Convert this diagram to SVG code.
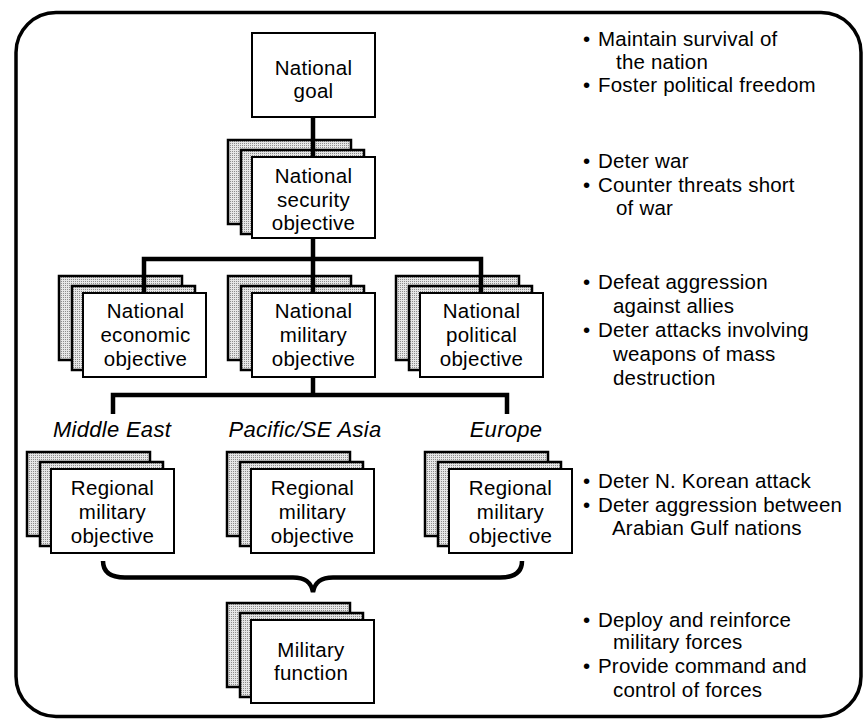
<svg xmlns="http://www.w3.org/2000/svg" width="864" height="726" viewBox="0 0 864 726">
  <style>
    .frame { fill: #fff; stroke: #000; stroke-width: 3.5; }
    .sheet { fill: url(#stipple); stroke: #000; stroke-width: 2.5; }
    .front { fill: #fff; stroke: #000; stroke-width: 2; }
    .lbl { font-family: "Liberation Sans", Arial, Helvetica, sans-serif; font-size: 20.5px; letter-spacing: 0.3px; fill: #000; text-anchor: middle; }
    .region { font-family: "Liberation Sans", Arial, Helvetica, sans-serif; font-size: 22px; font-style: italic; letter-spacing: 0.3px; fill: #000; text-anchor: middle; }
    .note { font-family: "Liberation Sans", Arial, Helvetica, sans-serif; font-size: 20.5px; letter-spacing: 0.2px; fill: #000; }
    .conn { fill: none; stroke: #000; stroke-width: 4.5; stroke-linejoin: miter; }
  </style>
  <defs>
    <!-- light grey stipple used on the shaded sheets -->
    <pattern id="stipple" width="2" height="2" patternUnits="userSpaceOnUse">
      <rect width="2" height="2" fill="#e6e6e6"/>
      <rect width="1" height="1" fill="#8c8c8c"/>
    </pattern>
    <!-- two shaded sheets stacked behind a front card whose top-left is (0,0) -->
    <g id="sheets">
      <rect class="sheet" x="-24" y="-17" width="123" height="84"/>
      <rect class="sheet" x="-11" y="-7" width="123" height="84"/>
    </g>
  </defs>

  <!-- outer frame -->
  <rect class="frame" x="16" y="12.5" width="845" height="704" rx="40" ry="40"/>

  <!-- stacked sheets (drawn beneath connectors) -->
  <g id="sheet-layer">
    <use href="#sheets" x="252" y="157"/>
    <use href="#sheets" x="83" y="293"/>
    <use href="#sheets" x="252" y="293"/>
    <use href="#sheets" x="420" y="293"/>
    <use href="#sheets" x="51" y="469"/>
    <use href="#sheets" x="251" y="469"/>
    <use href="#sheets" x="449" y="469"/>
    <use href="#sheets" x="251" y="620"/>
  </g>

  <!-- connectors -->
  <g id="connectors">
    <line class="conn" x1="313" y1="117" x2="313" y2="157"/>
    <line class="conn" x1="313" y1="238" x2="313" y2="293"/>
    <path class="conn" d="M144,293 V259 H481 V293"/>
    <line class="conn" x1="313" y1="377" x2="313" y2="395"/>
    <path class="conn" d="M113,414 V395 H507 V414"/>
    <!-- brace gathering the regional objectives -->
    <path class="conn" d="M103,561 C103,572 110,577.5 125,577.5 L293,577.5 C305,577.5 311,582 313,592 C315,582 321,577.5 333,577.5 L500,577.5 C515,577.5 522,572 522,561"/>
  </g>

  <!-- nodes -->
  <g id="national-goal">
    <rect class="front" x="252" y="33" width="123" height="84"/>
    <text class="lbl" x="313.5" y="75">National</text>
    <text class="lbl" x="313.5" y="98">goal</text>
  </g>

  <g id="national-security-objective">
    <rect class="front" x="252" y="157" width="123" height="81"/>
    <text class="lbl" x="313.5" y="183">National</text>
    <text class="lbl" x="313.5" y="207">security</text>
    <text class="lbl" x="313.5" y="230">objective</text>
  </g>

  <g id="national-economic-objective">
    <rect class="front" x="83" y="293" width="123" height="84"/>
    <text class="lbl" x="145.5" y="318">National</text>
    <text class="lbl" x="145.5" y="342">economic</text>
    <text class="lbl" x="145.5" y="366">objective</text>
  </g>

  <g id="national-military-objective">
    <rect class="front" x="252" y="293" width="123" height="84"/>
    <text class="lbl" x="313.5" y="318">National</text>
    <text class="lbl" x="313.5" y="342">military</text>
    <text class="lbl" x="313.5" y="366">objective</text>
  </g>

  <g id="national-political-objective">
    <rect class="front" x="420" y="293" width="123" height="84"/>
    <text class="lbl" x="481.5" y="318">National</text>
    <text class="lbl" x="481.5" y="342">political</text>
    <text class="lbl" x="481.5" y="366">objective</text>
  </g>

  <g id="region-labels">
    <text class="region" x="112" y="437">Middle East</text>
    <text class="region" x="305" y="437">Pacific/SE Asia</text>
    <text class="region" x="506" y="437">Europe</text>
  </g>

  <g id="regional-objective-middle-east">
    <rect class="front" x="51" y="469" width="123" height="84"/>
    <text class="lbl" x="112.5" y="495">Regional</text>
    <text class="lbl" x="112.5" y="519">military</text>
    <text class="lbl" x="112.5" y="543">objective</text>
  </g>

  <g id="regional-objective-pacific">
    <rect class="front" x="251" y="469" width="123" height="84"/>
    <text class="lbl" x="312.5" y="495">Regional</text>
    <text class="lbl" x="312.5" y="519">military</text>
    <text class="lbl" x="312.5" y="543">objective</text>
  </g>

  <g id="regional-objective-europe">
    <rect class="front" x="449" y="469" width="123" height="84"/>
    <text class="lbl" x="510.5" y="495">Regional</text>
    <text class="lbl" x="510.5" y="519">military</text>
    <text class="lbl" x="510.5" y="543">objective</text>
  </g>

  <g id="military-function">
    <rect class="front" x="251" y="620" width="123" height="83"/>
    <text class="lbl" x="311" y="657">Military</text>
    <text class="lbl" x="311" y="680">function</text>
  </g>

  <!-- side notes -->
  <g id="notes">
    <text class="note"><tspan x="583" y="46">•</tspan><tspan x="598" y="46">Maintain survival of</tspan></text>
    <text class="note" x="616" y="69">the nation</text>
    <text class="note"><tspan x="583" y="92">•</tspan><tspan x="598" y="92">Foster political freedom</tspan></text>

    <text class="note"><tspan x="583" y="168">•</tspan><tspan x="598" y="168">Deter war</tspan></text>
    <text class="note"><tspan x="583" y="192">•</tspan><tspan x="598" y="192">Counter threats short</tspan></text>
    <text class="note" x="616" y="215">of war</text>

    <text class="note"><tspan x="583" y="289">•</tspan><tspan x="598" y="289">Defeat aggression</tspan></text>
    <text class="note" x="613" y="313">against allies</text>
    <text class="note"><tspan x="583" y="337">•</tspan><tspan x="598" y="337">Deter attacks involving</tspan></text>
    <text class="note" x="613" y="361">weapons of mass</text>
    <text class="note" x="613" y="385">destruction</text>

    <text class="note"><tspan x="583" y="488">•</tspan><tspan x="598" y="488">Deter N. Korean attack</tspan></text>
    <text class="note"><tspan x="583" y="512">•</tspan><tspan x="598" y="512">Deter aggression between</tspan></text>
    <text class="note" x="612" y="535">Arabian Gulf nations</text>

    <text class="note"><tspan x="583" y="627">•</tspan><tspan x="598" y="627">Deploy and reinforce</tspan></text>
    <text class="note" x="613" y="649">military forces</text>
    <text class="note"><tspan x="583" y="673">•</tspan><tspan x="598" y="673">Provide command and</tspan></text>
    <text class="note" x="613" y="697">control of forces</text>
  </g>
</svg>
